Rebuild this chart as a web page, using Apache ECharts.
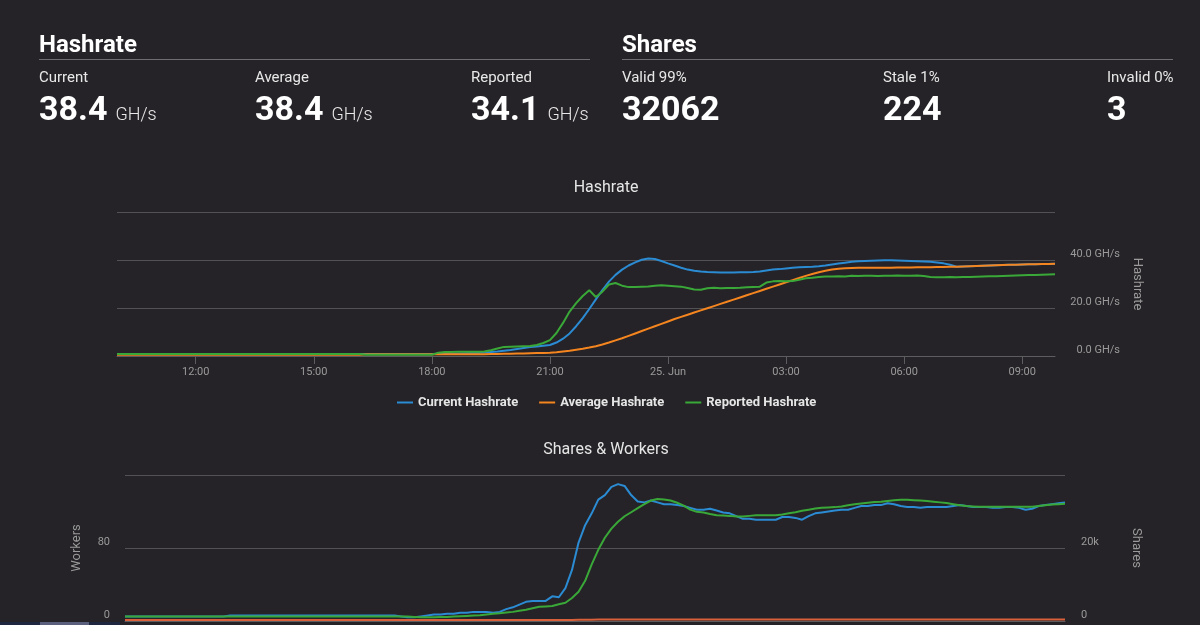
<!DOCTYPE html>
<html lang="en">
<head>
    <meta charset="UTF-8">
    <title>Hashrate & Shares</title>
    <script src="https://cdn.jsdelivr.net/npm/echarts@6.0.0/dist/echarts.min.js"></script>
    <style>
        body {
            margin: 0;
            background: #252327;
            font-family: Roboto, sans-serif;
            color: #fff;
            overflow: hidden;
        }
        #main {
            position: absolute;
            left: 0;
            top: 0;
            width: 1200px;
            height: 625px;
        }
        .abs { position: absolute; line-height: 1; white-space: nowrap; }
        .head { font-size: 24px; font-weight: 700; }
        .rule { position: absolute; height: 1px; background: #6e6e70; }
        .lbl { font-size: 15px; color: #e8e8e8; }
        .val { font-size: 34px; font-weight: 700; }
        .val span { font-size: 18px; font-weight: 300; margin-left: 8px; color: #e8e8e8; }
        /* strip at the very bottom left */
        .strip { position: absolute; left: 0; top: 622px; width: 120px; height: 3px; background: #1e2640; }
        .strip div { position: absolute; left: 40px; width: 49px; height: 3px; background: #5a5f7e; }
    </style>
</head>
<body>
    <div id="main"></div>

    <!-- header stats -->
    <div class="abs head" style="left:39px; top:32px;">Hashrate</div>
    <div class="rule" style="left:39px; top:59px; width:551px;"></div>
    <div class="abs lbl" style="left:39px; top:70px;">Current</div>
    <div class="abs lbl" style="left:255px; top:70px;">Average</div>
    <div class="abs lbl" style="left:471px; top:70px;">Reported</div>
    <div class="abs val" style="left:39px; top:91px;">38.4<span>GH/s</span></div>
    <div class="abs val" style="left:255px; top:91px;">38.4<span>GH/s</span></div>
    <div class="abs val" style="left:471px; top:91px;">34.1<span>GH/s</span></div>

    <div class="abs head" style="left:622px; top:32px;">Shares</div>
    <div class="rule" style="left:622px; top:59px; width:551px;"></div>
    <div class="abs lbl" style="left:622px; top:70px;">Valid 99%</div>
    <div class="abs lbl" style="left:883px; top:70px;">Stale 1%</div>
    <div class="abs lbl" style="left:1107px; top:70px;">Invalid 0%</div>
    <div class="abs val" style="left:622px; top:91px;">32062</div>
    <div class="abs val" style="left:883px; top:91px;">224</div>
    <div class="abs val" style="left:1107px; top:91px;">3</div>

    <div class="strip"><div></div></div>

    <script>
        // 10 minute steps, 24 Jun 10:00 -> 25 Jun 09:50
        var times = [];
        for (var i = 0; i < 144; i++) {
            var m = 600 + i * 10;
            var h = Math.floor(m / 60) % 24, mm = m % 60;
            times.push((h < 10 ? '0' : '') + h + ':' + (mm < 10 ? '0' : '') + mm);
        }
        var tickTimes  = ['12:00', '15:00', '18:00', '21:00', '00:00', '03:00', '06:00', '09:00'];
        var tickLabels = ['12:00', '15:00', '18:00', '21:00', '25. Jun', '03:00', '06:00', '09:00'];

        // GH/s
        var currentHashrate = [
            0.8, 0.8, 0.8, 0.8, 0.8, 0.8, 0.8, 0.8, 0.8, 0.8, 0.8, 0.8,
            0.8, 0.8, 0.8, 0.8, 0.8, 0.8, 0.8, 0.8, 0.8, 0.8, 0.8, 0.8,
            0.8, 0.8, 0.8, 0.8, 0.8, 0.8, 0.8, 0.8, 0.8, 0.8, 0.8, 0.8,
            0.8, 0.8, 0.8, 0.8, 0.8, 0.8, 0.8, 0.8, 0.8, 0.8, 0.8, 0.8,
            0.8, 0.8, 0.9, 0.9, 1.0, 1.1, 1.2, 1.3, 1.5, 1.7, 1.9, 2.2,
            2.5, 2.9, 3.3, 3.7, 4.0, 4.3, 4.6, 5.6, 7.2, 9.4, 12.4, 15.8,
            19.6, 23.6, 27.5, 31.0, 33.8, 36.0, 37.7, 39.0, 40.1, 40.6, 40.4, 39.6,
            38.6, 37.7, 36.8, 36.0, 35.5, 35.2, 35.0, 34.9, 34.8, 34.8, 34.8, 34.9,
            34.9, 35.0, 35.2, 35.6, 36.0, 36.2, 36.5, 36.8, 37.0, 37.1, 37.2, 37.4,
            37.7, 38.1, 38.5, 38.9, 39.3, 39.5, 39.6, 39.7, 39.8, 39.9, 39.9, 39.8,
            39.7, 39.6, 39.5, 39.4, 39.3, 39.0, 38.6, 38.0, 37.2, 37.3, 37.4, 37.5,
            37.6, 37.7, 37.8, 37.9, 38.0, 38.0, 38.1, 38.2, 38.2, 38.3, 38.3, 38.4
        ];
        var averageHashrate = [
            0.5, 0.5, 0.5, 0.5, 0.5, 0.5, 0.5, 0.5, 0.5, 0.5, 0.5, 0.5,
            0.5, 0.5, 0.5, 0.5, 0.5, 0.5, 0.5, 0.5, 0.5, 0.5, 0.5, 0.5,
            0.5, 0.5, 0.5, 0.5, 0.5, 0.5, 0.5, 0.5, 0.5, 0.5, 0.5, 0.5,
            0.5, 0.5, 0.7, 0.7, 0.7, 0.7, 0.7, 0.7, 0.7, 0.7, 0.7, 0.7,
            0.7, 0.7, 0.7, 0.7, 0.7, 0.7, 0.7, 0.7, 0.7, 0.8, 0.8, 0.9,
            0.9, 1.0, 1.0, 1.1, 1.2, 1.3, 1.4, 1.6, 1.9, 2.2, 2.6, 3.0,
            3.5, 4.1, 4.8, 5.6, 6.5, 7.4, 8.4, 9.4, 10.4, 11.4, 12.4, 13.4,
            14.4, 15.4, 16.3, 17.2, 18.1, 19.0, 19.9, 20.8, 21.7, 22.6, 23.5, 24.4,
            25.3, 26.2, 27.1, 28.0, 28.9, 29.8, 30.7, 31.6, 32.5, 33.4, 34.2, 34.9,
            35.5, 36.0, 36.4, 36.6, 36.7, 36.8, 36.8, 36.8, 36.8, 36.8, 36.8, 36.9,
            36.9, 36.9, 37.0, 37.0, 37.0, 37.1, 37.1, 37.2, 37.2, 37.3, 37.4, 37.5,
            37.6, 37.7, 37.8, 37.9, 38.0, 38.0, 38.1, 38.2, 38.2, 38.3, 38.3, 38.4
        ];
        var reportedHashrate = [
            0.8, 0.8, 0.8, 0.8, 0.8, 0.8, 0.8, 0.8, 0.8, 0.8, 0.8, 0.8,
            0.8, 0.8, 0.8, 0.8, 0.8, 0.8, 0.8, 0.8, 0.8, 0.8, 0.8, 0.8,
            0.8, 0.8, 0.8, 0.8, 0.8, 0.8, 0.8, 0.8, 0.8, 0.8, 0.8, 0.8,
            0.8, 0.8, 0.5, 0.5, 0.5, 0.5, 0.5, 0.5, 0.5, 0.5, 0.5, 0.5,
            0.5, 1.4, 1.7, 1.7, 1.8, 1.8, 1.8, 1.8, 1.9, 2.4, 3.1, 3.8,
            3.9, 4.0, 4.1, 4.2, 4.6, 5.4, 6.6, 9.6, 13.8, 18.5, 22.0, 25.0,
            27.4, 24.6, 26.8, 29.8, 30.4, 29.3, 28.7, 28.8, 28.9, 29.0, 29.3, 29.5,
            29.3, 29.1, 28.9, 28.3, 27.7, 27.6, 28.2, 28.4, 28.2, 28.3, 28.3, 28.4,
            28.6, 28.8, 28.9, 30.6, 31.1, 31.2, 31.1, 31.2, 31.8, 32.4, 32.6, 32.9,
            33.1, 33.1, 33.2, 33.1, 33.4, 33.3, 33.4, 33.4, 33.3, 33.4, 33.4, 33.5,
            33.4, 33.4, 33.5, 33.3, 32.9, 32.8, 32.8, 32.9, 32.8, 32.9, 32.9, 33.0,
            33.1, 33.2, 33.2, 33.3, 33.4, 33.5, 33.6, 33.7, 33.8, 33.9, 34.0, 34.1
        ];

        // shares & workers
        var workers = [
            5, 5, 5, 5, 5, 5, 5, 5, 5, 5, 5, 5,
            5, 5, 5, 5, 6, 6, 6, 6, 6, 6, 6, 6,
            6, 6, 6, 6, 6, 6, 6, 6, 6, 6, 6, 6,
            6, 6, 6, 6, 6, 6, 5, 4, 4, 5, 6, 7,
            7, 8, 8, 9, 9, 10, 10, 10, 9, 10, 13, 15,
            18, 21, 22, 22, 22, 27, 26, 36, 56, 86, 105, 118,
            133, 138, 147, 150, 148, 138, 131, 130, 132, 130, 128, 128,
            127, 126, 124, 122, 122, 123, 121, 119, 118, 115, 112, 112,
            111, 111, 111, 111, 114, 114, 113, 111, 115, 118, 119, 120,
            121, 122, 122, 124, 126, 126, 127, 127, 129, 128, 126, 125,
            125, 124, 125, 125, 125, 125, 126, 127, 126, 125, 125, 125,
            124, 124, 125, 125, 124, 122, 123, 126, 127, 128, 129, 130
        ];
        var validShares = [
            1200, 1200, 1200, 1200, 1200, 1200, 1200, 1200, 1200, 1200, 1200, 1200,
            1200, 1200, 1200, 1200, 1200, 1200, 1200, 1200, 1200, 1200, 1200, 1200,
            1200, 1200, 1200, 1200, 1200, 1200, 1200, 1200, 1200, 1200, 1200, 1200,
            1200, 1200, 1200, 1200, 1200, 1200, 1200, 1200, 1100, 1000, 1000, 1000,
            1100, 1100, 1200, 1300, 1400, 1500, 1600, 1800, 2000, 2100, 2300, 2500,
            2800, 3100, 3500, 3900, 4000, 4100, 4600, 5000, 6300, 8000, 11000, 15500,
            19500, 22800, 25300, 27200, 28700, 29800, 30900, 32000, 33000, 33400, 33300, 33000,
            32400, 31600, 30500, 29900, 29700, 29300, 29000, 28900, 28800, 28600, 28600, 28800,
            29000, 29000, 29000, 29000, 29200, 29500, 29800, 30200, 30500, 30800, 31000, 31100,
            31200, 31400, 31700, 32000, 32200, 32400, 32600, 32700, 32900, 33100, 33200, 33200,
            33100, 33000, 32900, 32700, 32500, 32300, 32000, 31700, 31500, 31400, 31300, 31300,
            31300, 31300, 31300, 31300, 31300, 31300, 31300, 31500, 31700, 31900, 32000, 32100
        ];
        var staleShares = [
            300, 300, 300, 300, 300, 300, 300, 300, 300, 300, 300, 300,
            300, 300, 300, 300, 300, 300, 300, 300, 300, 300, 300, 300,
            300, 300, 300, 300, 300, 300, 300, 300, 300, 300, 300, 300,
            300, 300, 300, 300, 300, 300, 300, 300, 300, 300, 300, 300,
            300, 300, 300, 300, 300, 300, 300, 300, 300, 300, 300, 300,
            300, 300, 300, 300, 300, 300, 300, 300, 300, 320, 340, 360,
            380, 400, 400, 400, 400, 400, 400, 400, 400, 400, 400, 400,
            400, 400, 400, 400, 400, 400, 400, 400, 400, 400, 400, 400,
            400, 400, 400, 400, 400, 400, 400, 400, 400, 400, 400, 400,
            400, 400, 400, 400, 400, 400, 400, 400, 400, 400, 400, 400,
            400, 400, 400, 400, 400, 400, 400, 400, 400, 400, 400, 400,
            400, 400, 400, 400, 400, 400, 400, 400, 400, 400, 400, 400
        ];

        var gridColor = '#525255';
        var axisText = '#9a9a9a';
        var font = 'Roboto';

        function isTick(i, v) { return tickTimes.indexOf(v) >= 0; }

        var chart = echarts.init(document.getElementById('main'));
        var option = {
            backgroundColor: 'transparent',
            animation: false,
            textStyle: { fontFamily: font },
            title: [{
                text: 'Hashrate',
                left: 606, top: 180, textAlign: 'center', padding: 0,
                textStyle: { color: '#e6e6e6', fontSize: 16, fontWeight: 'normal', fontFamily: font }
            }, {
                text: 'Shares & Workers',
                left: 606, top: 442, textAlign: 'center', padding: 0,
                textStyle: { color: '#e6e6e6', fontSize: 16, fontWeight: 'normal', fontFamily: font }
            }],
            legend: {
                data: ['Current Hashrate', 'Average Hashrate', 'Reported Hashrate'],
                left: 397, top: 396, padding: 0,
                icon: 'rect', itemWidth: 16, itemHeight: 2, itemGap: 21,
                textStyle: { color: '#e6e6e6', fontSize: 13, fontWeight: 'bold', fontFamily: font }
            },
            grid: [
                { left: 117, right: 145, top: 212, height: 144 },
                { left: 125, right: 135, top: 475, height: 146 }
            ],
            xAxis: [{
                gridIndex: 0, type: 'category', data: times, boundaryGap: false,
                axisLine: { lineStyle: { color: '#5d5d60' } },
                axisTick: { interval: isTick, length: 8, lineStyle: { color: '#5d5d60' } },
                axisLabel: {
                    interval: isTick, margin: 11, color: axisText, fontSize: 11,
                    formatter: function (v) { return tickLabels[tickTimes.indexOf(v)]; }
                }
            }, {
                gridIndex: 1, type: 'category', data: times, boundaryGap: false,
                axisLine: { lineStyle: { color: '#5d5d60' } },
                axisTick: { show: false },
                axisLabel: { show: false }
            }],
            yAxis: [{
                gridIndex: 0, type: 'value', position: 'right',
                min: 0, max: 60, interval: 20,
                name: 'Hashrate', nameLocation: 'middle', nameRotate: -90, nameGap: 73,
                nameTextStyle: { color: axisText, fontSize: 13 },
                axisLine: { show: false }, axisTick: { show: false },
                axisLabel: {
                    align: 'right', margin: 65, verticalAlign: 'bottom',
                    color: axisText, fontSize: 11,
                    formatter: function (v) { return v === 60 ? '' : v.toFixed(1) + ' GH/s'; }
                },
                splitLine: { lineStyle: { color: gridColor } }
            }, {
                gridIndex: 1, type: 'value', position: 'left',
                min: 0, max: 160, interval: 80,
                name: 'Workers', nameLocation: 'middle', nameRotate: 90, nameGap: 42,
                nameTextStyle: { color: axisText, fontSize: 13 },
                axisLine: { show: false }, axisTick: { show: false },
                axisLabel: {
                    margin: 15, verticalAlign: 'bottom', color: axisText, fontSize: 11,
                    formatter: function (v) { return v === 160 ? '' : String(v); }
                },
                splitLine: { lineStyle: { color: gridColor } }
            }, {
                gridIndex: 1, type: 'value', position: 'right',
                min: 0, max: 40000, interval: 20000,
                name: 'Shares', nameLocation: 'middle', nameRotate: -90, nameGap: 65,
                nameTextStyle: { color: axisText, fontSize: 13 },
                axisLine: { show: false }, axisTick: { show: false },
                axisLabel: {
                    margin: 16, verticalAlign: 'bottom', color: axisText, fontSize: 11,
                    formatter: function (v) { return v === 0 ? '0' : (v === 40000 ? '' : v / 1000 + 'k'); }
                },
                splitLine: { show: false }
            }],
            series: [{
                name: 'Current Hashrate', type: 'line', xAxisIndex: 0, yAxisIndex: 0,
                data: currentHashrate, showSymbol: false, color: '#2b8bd3',
                lineStyle: { width: 2 }
            }, {
                name: 'Average Hashrate', type: 'line', xAxisIndex: 0, yAxisIndex: 0,
                data: averageHashrate, showSymbol: false, color: '#f5851f',
                lineStyle: { width: 2 }
            }, {
                name: 'Reported Hashrate', type: 'line', xAxisIndex: 0, yAxisIndex: 0,
                data: reportedHashrate, showSymbol: false, color: '#3aa838',
                lineStyle: { width: 2 }
            }, {
                name: 'Workers', type: 'line', xAxisIndex: 1, yAxisIndex: 1,
                data: workers, showSymbol: false, color: '#2b8bd3',
                lineStyle: { width: 2 }
            }, {
                name: 'Valid Shares', type: 'line', xAxisIndex: 1, yAxisIndex: 2,
                data: validShares, showSymbol: false, color: '#3aa838',
                lineStyle: { width: 2 }
            }, {
                name: 'Stale Shares', type: 'line', xAxisIndex: 1, yAxisIndex: 2,
                data: staleShares, showSymbol: false, color: '#d9603a',
                lineStyle: { width: 2 }
            }]
        };
        chart.setOption(option);
    </script>
</body>
</html>
